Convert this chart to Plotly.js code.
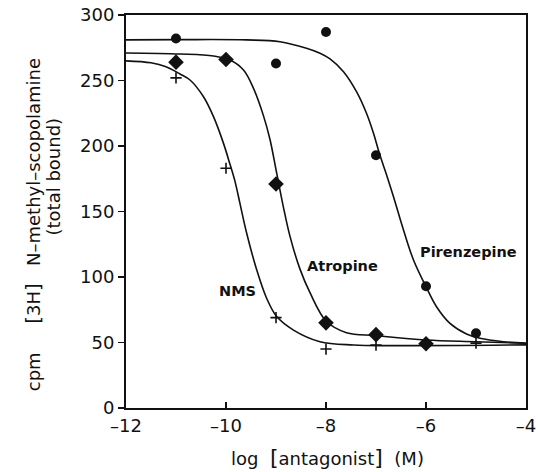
<!DOCTYPE html>
<html><head><meta charset="utf-8">
<script src="https://cdn.plot.ly/plotly-3.0.1.min.js"></script>
<style>html,body{margin:0;padding:0;background:#fff}#chart{width:538px;height:472px}</style>
</head><body><div id="chart"></div>
<script>
// Measured data points
const pirX = [-11, -9, -8, -7, -6, -5];
const pirY = [282, 263, 287, 193, 93, 57];
const atrX = [-11, -10, -9, -8, -7, -6];
const atrY = [264, 266, 171, 65, 56, 49];
const nmsX = [-11, -10, -9, -8, -7, -5];
const nmsY = [252, 183, 69, 45, 48, 49.5];

// Fitted curves
const pirCurveX = [-12, -10.92, -9.59, -8.92, -8.39, -8.12, -7.92, -7.65, -7.39, -7.19, -7.05, -6.93, -6.78, -6.65, -6.45, -6.25, -6.0, -5.79, -5.52, -5.19, -4.92, -4.45, -4.0];
const pirCurveY = [281, 281.2, 281, 279.6, 274.6, 270.8, 266.5, 256.7, 241.5, 225, 209.7, 194, 177, 161.3, 135.9, 113, 92.6, 77.3, 64.6, 56.5, 53.2, 50.6, 49.4];
const atrCurveX = [-12, -10.92, -10.25, -9.92, -9.65, -9.45, -9.25, -9.12, -8.99, -8.85, -8.72, -8.52, -8.32, -7.99, -7.59, -7.0, -6.0, -5.0, -4.0];
const atrCurveY = [271, 270.2, 268.7, 265.6, 258, 244, 223, 205, 180, 153, 131, 106, 88, 66, 57.5, 55.2, 51.9, 50.6, 49.4];
const nmsCurveX = [-12, -11.5, -11.2, -10.92, -10.72, -10.45, -10.25, -10.05, -9.92, -9.82, -9.72, -9.59, -9.39, -9.19, -8.99, -8.65, -8.12, -7.45, -6.72, -4.0];
const nmsCurveY = [265, 263.5, 260.5, 255, 250.4, 237.6, 222.4, 202, 186, 173, 156, 134, 106, 84, 70, 59.5, 50.6, 48.1, 47.6, 48.2];

const xTickVals = [-12, -10, -8, -6, -4];
const xTickText = ['\u201312', '\u201310', '\u20138', '\u20136', '\u20134'];
const yTickVals = [0, 50, 100, 150, 200, 250, 300];

const labels = [
  {text: 'Pirenzepine', x: -5.16, y: 119.3},
  {text: 'Atropine', x: -7.68, y: 108.4},
  {text: 'NMS', x: -9.78, y: 89.5}
];

const FONT = 'DejaVu Sans, Liberation Sans, Arial, sans-serif';
const lineStyle = {color: '#111', width: 1.6, shape: 'spline', smoothing: 1};
const traces = [
  {x: pirCurveX, y: pirCurveY, mode: 'lines', line: lineStyle, hoverinfo: 'skip'},
  {x: atrCurveX, y: atrCurveY, mode: 'lines', line: lineStyle, hoverinfo: 'skip'},
  {x: nmsCurveX, y: nmsCurveY, mode: 'lines', line: lineStyle, hoverinfo: 'skip'},
  {x: pirX, y: pirY, mode: 'markers', marker: {symbol: 'circle', size: 10, color: '#111'}},
  {x: atrX, y: atrY, mode: 'markers', marker: {symbol: 'diamond', size: 12, color: '#111'}},
  {x: nmsX, y: nmsY, mode: 'markers', marker: {symbol: 'cross-thin-open', size: 8, color: '#111', line: {color: '#111', width: 1.6}}}
];

const tickFont = {family: FONT, size: 18, color: '#111'};
const annotations = labels.map(l => ({
  x: l.x, y: l.y, xref: 'x', yref: 'y', xanchor: 'center', yanchor: 'middle',
  text: '<b>' + l.text + '</b>', showarrow: false,
  font: {family: FONT, size: 14.5, color: '#111'}
}));
annotations.push({
  xref: 'paper', yref: 'paper', x: -0.232, y: 0.4656, xanchor: 'center', yanchor: 'middle',
  textangle: -90, showarrow: false,
  text: 'cpm&nbsp;&nbsp;&nbsp;&nbsp;&nbsp;<span style="font-size:20px">[</span>3H<span style="font-size:20px">]</span>&nbsp;&nbsp;&nbsp;N\u2013methyl\u2013scopolamine',
  font: {family: FONT, size: 18, color: '#111'}
});
annotations.push({
  xref: 'paper', yref: 'paper', x: -0.18, y: 0.589, xanchor: 'center', yanchor: 'middle',
  textangle: -90, showarrow: false,
  text: '(total bound)',
  font: {family: FONT, size: 18, color: '#111'}
});
annotations.push({
  xref: 'paper', yref: 'paper', x: 0.5025, y: -0.127, xanchor: 'center', yanchor: 'middle', showarrow: false,
  text: 'log&nbsp;&nbsp;<span style="font-size:22px">[</span>antagonist<span style="font-size:22px">]</span>&nbsp;&nbsp;(M)',
  font: {family: FONT, size: 18, color: '#111'}
});

const layout = {
  width: 538, height: 472,
  margin: {l: 126, r: 12, t: 15, b: 64},
  paper_bgcolor: '#fff', plot_bgcolor: '#fff',
  showlegend: false,
  xaxis: {range: [-12, -4], tickvals: xTickVals, ticktext: xTickText, showgrid: false, zeroline: false,
    showline: true, mirror: true, linecolor: '#111', linewidth: 2,
    ticks: 'inside', ticklen: 6, tickwidth: 1.5, tickcolor: '#111', tickfont: tickFont},
  yaxis: {range: [0, 300], tickvals: yTickVals, showgrid: false, zeroline: false,
    showline: true, mirror: true, linecolor: '#111', linewidth: 2,
    ticks: 'outside', ticklen: 6, tickwidth: 1.5, tickcolor: '#111', tickfont: tickFont},
  annotations: annotations
};

Plotly.newPlot('chart', traces, layout, {displayModeBar: false, staticPlot: true});
</script></body></html>
